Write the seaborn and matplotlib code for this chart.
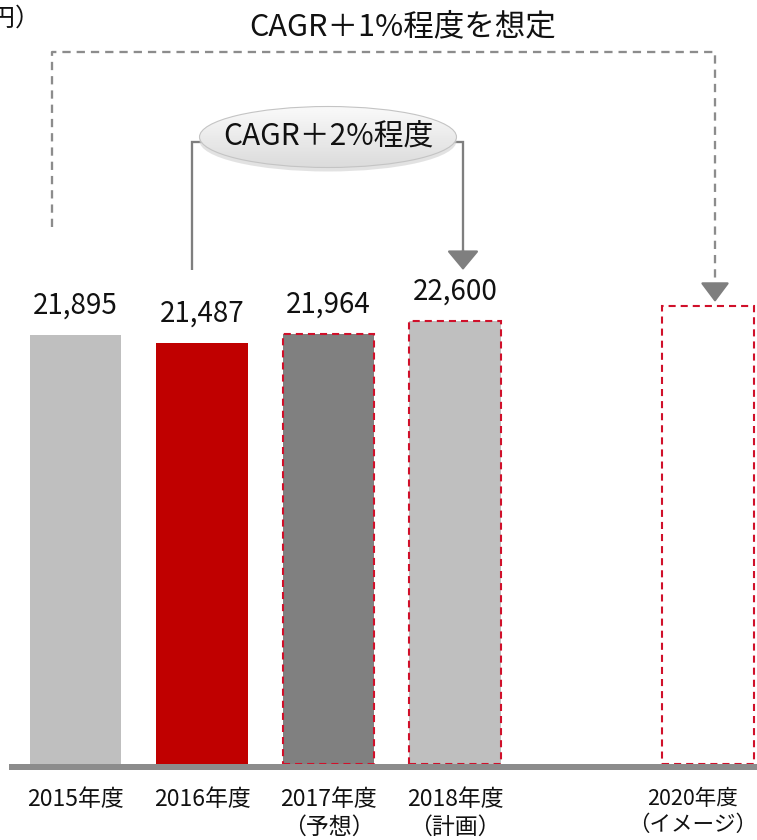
import numpy as np
import pandas as pd
import matplotlib
matplotlib.use("Agg")
import matplotlib.pyplot as plt
from matplotlib.patches import Ellipse
from matplotlib.transforms import ScaledTranslation
import seaborn as sns

# ---- data ----
categories = ["2015", "2016", "2017", "2018", "2019", "2020"]
present = ["2015", "2016", "2017", "2018", "2020"]
values = [21895, 21487, 21964, 22600, 23370]
value_labels = ["21,895", "21,487", "21,964", "22,600", ""]
tick_labels = ["2015年度", "2016年度", "2017年度\n（予想）", "2018年度\n（計画）", "", "2020年度\n（イメージ）"]
bar_colors = ["#bfbfbf", "#c00000", "#808080", "#bfbfbf", "#ffffff"]
dashed_edge = [False, False, True, True, True]
unit_label = "（億円）"
cagr_small = "CAGR＋2%程度"
cagr_big = "CAGR＋1%程度を想定"

sns.set_theme(style="white")
plt.rcParams["font.family"] = ["Noto Sans CJK JP", "DejaVu Sans"]

W, H, DPI = 757, 840, 100
fig = plt.figure(figsize=(W / DPI, H / DPI), dpi=DPI)

# axes geometry in pixels
ax_left_px, ax_bottom_px = 9, 770
ax = fig.add_axes([ax_left_px / W, 1 - ax_bottom_px / H, (W - ax_left_px) / W, ax_bottom_px / H])

px_per_unit = 0.019594  # vertical pixels per value unit
px_per_cat = 126.5
xmin = -(75.5 - ax_left_px) / px_per_cat
xmax = xmin + (W - ax_left_px) / px_per_cat
ymin = -6 / px_per_unit
ymax = (ax_bottom_px - 6) / px_per_unit

df = pd.DataFrame({"year": present, "value": values})
palette = dict(zip(present, bar_colors))
sns.barplot(data=df, x="year", y="value", order=categories, hue="year",
            hue_order=present, palette=palette, legend=False, errorbar=None,
            width=0.72, saturation=1, ax=ax)

# style the bars
for p in ax.patches:
    cx = p.get_x() + p.get_width() / 2
    idx = int(round(cx))
    cat = categories[idx]
    if cat in present:
        i = present.index(cat)
        p.set_facecolor(bar_colors[i])
        if dashed_edge[i]:
            p.set_edgecolor("#d0102a")
            p.set_linewidth(1.5)
            p.set_linestyle((0, (3.4, 2.4)))
        else:
            p.set_linewidth(0)

ax.set_xlim(xmin, xmax)
ax.set_ylim(ymin, ymax)

# baseline
ax.axhline(ymin / 2, color="#8c8c8c", lw=6 * 72 / DPI, solid_capstyle="butt", zorder=5)

for s in ax.spines.values():
    s.set_visible(False)
ax.set_yticks([])
ax.set_ylabel("")
ax.set_xlabel("")
ax.set_xticks(range(len(categories)))
ax.set_xticklabels(tick_labels, fontsize=16.5, color="#111111", linespacing=1.25)
ax.tick_params(axis="x", length=0, pad=13)
# keep the last (edge) label inside the canvas
last = ax.get_xticklabels()[-1]
last.set_fontsize(15.5)
last.set_transform(last.get_transform() + ScaledTranslation(-11 / 72, 0, fig.dpi_scale_trans))

# value labels
pos_of = {c: categories.index(c) for c in present}
for c, v, lab in zip(present, values, value_labels):
    if lab:
        ax.annotate(lab, xy=(pos_of[c], v), xytext=(0, 21), textcoords="offset points",
                    ha="center", va="center", fontsize=20, color="#111111")

def py(pixel_y):
    # figure pixel (from top) -> data y
    return (ax_bottom_px - 6 - pixel_y) / px_per_unit

def px(pixel_x):
    return (pixel_x - 75.5) / px_per_cat

gray = "#7f7f7f"
lw_line = 2.3 * 72 / DPI

# ---- small bracket (CAGR +2%) ----
xl, xr = px(192), px(463)
y_top = py(142)
y_tip = py(270)
ax.plot([xl, xl, px(205)], [y_tip, y_top, y_top], color=gray, lw=lw_line,
        solid_capstyle="butt", solid_joinstyle="miter", zorder=6)
ax.plot([px(452), xr, xr], [y_top, y_top, py(256)], color=gray, lw=lw_line,
        solid_capstyle="butt", solid_joinstyle="miter", zorder=6)
ax.annotate("", xy=(xr, y_tip), xytext=(xr, py(250)),
            arrowprops=dict(arrowstyle="-|>,head_length=12,head_width=10", mutation_scale=1,
                            color=gray, lw=lw_line, shrinkA=0, shrinkB=0), zorder=6)

# ellipse with gradient + shadow
ecx, ecy = px(328), py(137)
ew, eh = 257 / px_per_cat, 61 / px_per_unit
shadow = Ellipse((ecx, ecy - 4 / px_per_unit), ew, eh, facecolor="#d0d0d0", edgecolor="none",
                 alpha=0.6, zorder=7)
ax.add_patch(shadow)
ell = Ellipse((ecx, ecy), ew, eh, facecolor="none", edgecolor="#c4c4c4", lw=0.8, zorder=9)
ax.add_patch(ell)
grad = np.linspace(1.0, 0.0, 64).reshape(-1, 1)
cmap = matplotlib.colors.LinearSegmentedColormap.from_list("g", ["#dcdcdc", "#fafafa"])
im = ax.imshow(grad, cmap=cmap, extent=[ecx - ew / 2, ecx + ew / 2, ecy - eh / 2, ecy + eh / 2],
               origin="upper", aspect="auto", zorder=8, interpolation="bilinear")
clip_e = Ellipse((ecx, ecy), ew, eh, transform=ax.transData)
im.set_clip_path(clip_e)
ax.text(ecx, ecy, cagr_small, ha="center", va="center", fontsize=21.5, color="#111111", zorder=10)

# ---- big dashed bracket (CAGR +1%) ----
bl, br = px(52), px(715)
by_top = py(52)
dash = (0, (3.6, 2.6))
ax.plot([bl, bl, br, br], [py(227), by_top, by_top, py(288)], color="#8c8c8c", lw=lw_line,
        linestyle=dash, zorder=6)
ax.annotate("", xy=(br, py(302)), xytext=(br, py(284)),
            arrowprops=dict(arrowstyle="-|>,head_length=12,head_width=9", mutation_scale=1,
                            color=gray, lw=lw_line, shrinkA=0, shrinkB=0), zorder=6)
ax.text(px(403), py(27), cagr_big, ha="center", va="center", fontsize=22, color="#111111")

ax.set_xlim(xmin, xmax)
ax.set_ylim(ymin, ymax)

fig.text(41 / W, 1 - 19 / H, unit_label, ha="right", va="center", fontsize=18, color="#111111")

fig.savefig("out.png", dpi=DPI)
